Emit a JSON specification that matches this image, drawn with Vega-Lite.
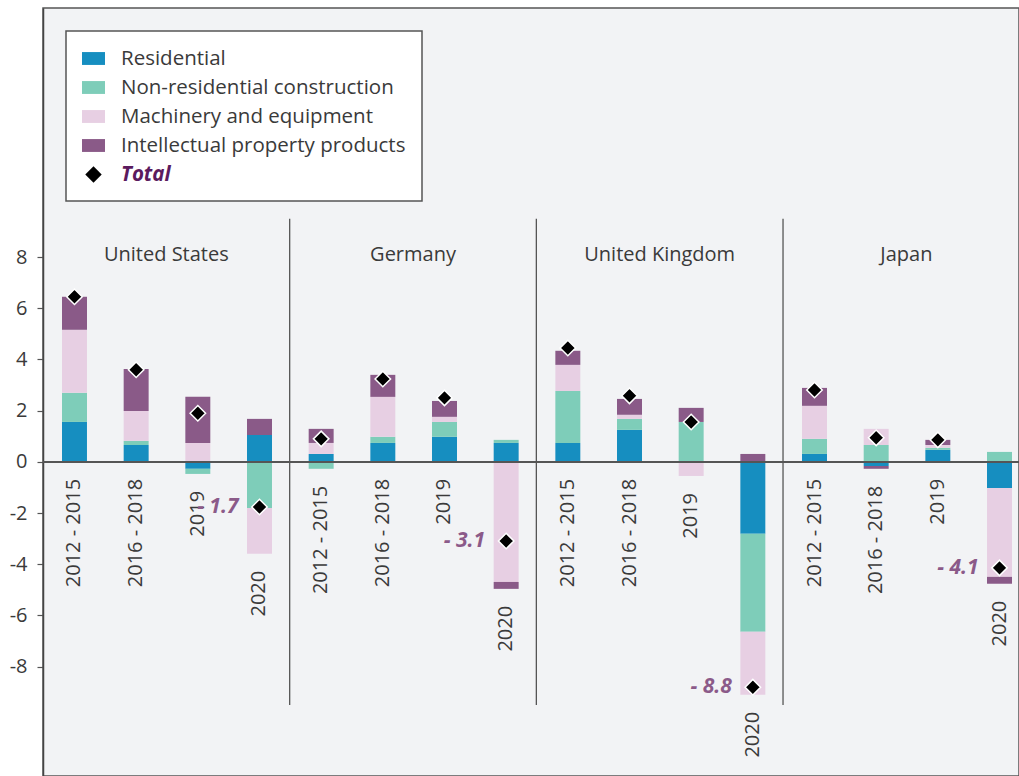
{
  "$schema": "https://vega.github.io/schema/vega-lite/v6.json",
  "width": 976,
  "height": 768,
  "autosize": {"type": "none"},
  "padding": {"left": 43, "top": 8, "right": 0, "bottom": 0},
  "background": "white",
  "config": {
    "view": {"fill": "#f2f3f5", "stroke": "#555555", "strokeWidth": 1.5},
    "font": "Open Sans"
  },
  "resolve": {"scale": {"x": "independent"}},
  "layer": [
    {
      "data": {
        "values": [
          {"country": "United States", "period": "2012 - 2015", "series": "Residential", "value": 1.56},
          {"country": "United States", "period": "2012 - 2015", "series": "Non-residential construction", "value": 1.14},
          {"country": "United States", "period": "2012 - 2015", "series": "Machinery and equipment", "value": 2.46},
          {"country": "United States", "period": "2012 - 2015", "series": "Intellectual property products", "value": 1.29},
          {"country": "United States", "period": "2012 - 2015", "series": "Total", "value": 6.45},
          {"country": "United States", "period": "2016 - 2018", "series": "Residential", "value": 0.66},
          {"country": "United States", "period": "2016 - 2018", "series": "Non-residential construction", "value": 0.16},
          {"country": "United States", "period": "2016 - 2018", "series": "Machinery and equipment", "value": 1.17},
          {"country": "United States", "period": "2016 - 2018", "series": "Intellectual property products", "value": 1.64},
          {"country": "United States", "period": "2016 - 2018", "series": "Total", "value": 3.6},
          {"country": "United States", "period": "2019", "series": "Residential", "value": -0.27},
          {"country": "United States", "period": "2019", "series": "Non-residential construction", "value": -0.2},
          {"country": "United States", "period": "2019", "series": "Machinery and equipment", "value": 0.74},
          {"country": "United States", "period": "2019", "series": "Intellectual property products", "value": 1.8},
          {"country": "United States", "period": "2019", "series": "Total", "value": 1.9},
          {"country": "United States", "period": "2020", "series": "Residential", "value": 1.05},
          {"country": "United States", "period": "2020", "series": "Non-residential construction", "value": -1.8},
          {"country": "United States", "period": "2020", "series": "Machinery and equipment", "value": -1.79},
          {"country": "United States", "period": "2020", "series": "Intellectual property products", "value": 0.63},
          {"country": "United States", "period": "2020", "series": "Total", "value": -1.76, "label": "- 1.7"},
          {"country": "Germany", "period": "2012 - 2015", "series": "Residential", "value": 0.31},
          {"country": "Germany", "period": "2012 - 2015", "series": "Non-residential construction", "value": -0.27},
          {"country": "Germany", "period": "2012 - 2015", "series": "Machinery and equipment", "value": 0.43},
          {"country": "Germany", "period": "2012 - 2015", "series": "Intellectual property products", "value": 0.55},
          {"country": "Germany", "period": "2012 - 2015", "series": "Total", "value": 0.9},
          {"country": "Germany", "period": "2016 - 2018", "series": "Residential", "value": 0.74},
          {"country": "Germany", "period": "2016 - 2018", "series": "Non-residential construction", "value": 0.24},
          {"country": "Germany", "period": "2016 - 2018", "series": "Machinery and equipment", "value": 1.56},
          {"country": "Germany", "period": "2016 - 2018", "series": "Intellectual property products", "value": 0.86},
          {"country": "Germany", "period": "2016 - 2018", "series": "Total", "value": 3.24},
          {"country": "Germany", "period": "2019", "series": "Residential", "value": 0.98},
          {"country": "Germany", "period": "2019", "series": "Non-residential construction", "value": 0.58},
          {"country": "Germany", "period": "2019", "series": "Machinery and equipment", "value": 0.2},
          {"country": "Germany", "period": "2019", "series": "Intellectual property products", "value": 0.62},
          {"country": "Germany", "period": "2019", "series": "Total", "value": 2.5},
          {"country": "Germany", "period": "2020", "series": "Residential", "value": 0.74},
          {"country": "Germany", "period": "2020", "series": "Non-residential construction", "value": 0.12},
          {"country": "Germany", "period": "2020", "series": "Machinery and equipment", "value": -4.69},
          {"country": "Germany", "period": "2020", "series": "Intellectual property products", "value": -0.27},
          {"country": "Germany", "period": "2020", "series": "Total", "value": -3.09, "label": "- 3.1"},
          {"country": "United Kingdom", "period": "2012 - 2015", "series": "Residential", "value": 0.74},
          {"country": "United Kingdom", "period": "2012 - 2015", "series": "Non-residential construction", "value": 2.03},
          {"country": "United Kingdom", "period": "2012 - 2015", "series": "Machinery and equipment", "value": 1.02},
          {"country": "United Kingdom", "period": "2012 - 2015", "series": "Intellectual property products", "value": 0.55},
          {"country": "United Kingdom", "period": "2012 - 2015", "series": "Total", "value": 4.45},
          {"country": "United Kingdom", "period": "2016 - 2018", "series": "Residential", "value": 1.25},
          {"country": "United Kingdom", "period": "2016 - 2018", "series": "Non-residential construction", "value": 0.43},
          {"country": "United Kingdom", "period": "2016 - 2018", "series": "Machinery and equipment", "value": 0.16},
          {"country": "United Kingdom", "period": "2016 - 2018", "series": "Intellectual property products", "value": 0.62},
          {"country": "United Kingdom", "period": "2016 - 2018", "series": "Total", "value": 2.58},
          {"country": "United Kingdom", "period": "2019", "series": "Residential", "value": 0},
          {"country": "United Kingdom", "period": "2019", "series": "Non-residential construction", "value": 1.56},
          {"country": "United Kingdom", "period": "2019", "series": "Machinery and equipment", "value": -0.55},
          {"country": "United Kingdom", "period": "2019", "series": "Intellectual property products", "value": 0.55},
          {"country": "United Kingdom", "period": "2019", "series": "Total", "value": 1.56},
          {"country": "United Kingdom", "period": "2020", "series": "Residential", "value": -2.81},
          {"country": "United Kingdom", "period": "2020", "series": "Non-residential construction", "value": -3.83},
          {"country": "United Kingdom", "period": "2020", "series": "Machinery and equipment", "value": -2.46},
          {"country": "United Kingdom", "period": "2020", "series": "Intellectual property products", "value": 0.31},
          {"country": "United Kingdom", "period": "2020", "series": "Total", "value": -8.8, "label": "- 8.8"},
          {"country": "Japan", "period": "2012 - 2015", "series": "Residential", "value": 0.31},
          {"country": "Japan", "period": "2012 - 2015", "series": "Non-residential construction", "value": 0.59},
          {"country": "Japan", "period": "2012 - 2015", "series": "Machinery and equipment", "value": 1.29},
          {"country": "Japan", "period": "2012 - 2015", "series": "Intellectual property products", "value": 0.7},
          {"country": "Japan", "period": "2012 - 2015", "series": "Total", "value": 2.81},
          {"country": "Japan", "period": "2016 - 2018", "series": "Residential", "value": -0.16},
          {"country": "Japan", "period": "2016 - 2018", "series": "Non-residential construction", "value": 0.66},
          {"country": "Japan", "period": "2016 - 2018", "series": "Machinery and equipment", "value": 0.63},
          {"country": "Japan", "period": "2016 - 2018", "series": "Intellectual property products", "value": -0.11},
          {"country": "Japan", "period": "2016 - 2018", "series": "Total", "value": 0.94},
          {"country": "Japan", "period": "2019", "series": "Residential", "value": 0.47},
          {"country": "Japan", "period": "2019", "series": "Non-residential construction", "value": 0.08},
          {"country": "Japan", "period": "2019", "series": "Machinery and equipment", "value": 0.11},
          {"country": "Japan", "period": "2019", "series": "Intellectual property products", "value": 0.2},
          {"country": "Japan", "period": "2019", "series": "Total", "value": 0.86},
          {"country": "Japan", "period": "2020", "series": "Residential", "value": -1.02},
          {"country": "Japan", "period": "2020", "series": "Non-residential construction", "value": 0.39},
          {"country": "Japan", "period": "2020", "series": "Machinery and equipment", "value": -3.47},
          {"country": "Japan", "period": "2020", "series": "Intellectual property products", "value": -0.27},
          {"country": "Japan", "period": "2020", "series": "Total", "value": -4.14, "label": "- 4.1"}
        ]
      },
      "transform": [{"calculate": "datum.country + ' ' + datum.period", "as": "key"}],
      "encoding": {
        "x": {
          "field": "key",
          "type": "nominal",
          "axis": null,
          "scale": {
            "type": "band",
            "domain": [
              "United States 2012 - 2015", "United States 2016 - 2018", "United States 2019", "United States 2020",
              "Germany 2012 - 2015", "Germany 2016 - 2018", "Germany 2019", "Germany 2020",
              "United Kingdom 2012 - 2015", "United Kingdom 2016 - 2018", "United Kingdom 2019", "United Kingdom 2020",
              "Japan 2012 - 2015", "Japan 2016 - 2018", "Japan 2019", "Japan 2020"
            ],
            "range": [19, 969],
            "paddingInner": 0.595,
            "paddingOuter": 0
          }
        }
      },
      "layer": [
        {
          "transform": [
            {"filter": "datum.series !== 'Total'"},
            {"calculate": "indexof(['Residential','Non-residential construction','Machinery and equipment','Intellectual property products'], datum.series)", "as": "ord"}
          ],
          "mark": {"type": "bar"},
          "encoding": {
            "y": {
              "field": "value",
              "type": "quantitative",
              "stack": "zero",
              "scale": {"domain": [-12.27, 17.73], "nice": false, "zero": false},
              "axis": {
                "title": null,
                "values": [-8, -6, -4, -2, 0, 2, 4, 6, 8],
                "labelExpr": "'' + datum.value",
                "grid": false,
                "labelFontSize": 20,
                "labelColor": "#3a3a3a",
                "labelPadding": 10,
                "tickSize": 6,
                "tickColor": "#555555",
                "tickWidth": 1.2,
                "domainColor": "#444444",
                "domainWidth": 1.5
              }
            },
            "color": {
              "field": "series",
              "type": "nominal",
              "scale": {
                "domain": ["Residential", "Non-residential construction", "Machinery and equipment", "Intellectual property products", "Total"],
                "range": ["#168ec0", "#7ecdb9", "#e7cfe3", "#8a5a88", "#000000"]
              },
              "legend": {
                "title": null,
                "orient": "none",
                "legendX": 23,
                "legendY": 23,
                "direction": "vertical",
                "fillColor": "white",
                "strokeColor": "#555555",
                "padding": 16,
                "labelFontSize": 20.5,
                "labelColor": "#3a3a3a",
                "labelOffset": 16,
                "labelLimit": 400,
                "rowPadding": 7,
                "encode": {
                  "symbols": {
                    "update": {
                      "shape": {"signal": "datum.value === 'Total' ? 'diamond' : 'M-1,-0.56H1V0.56H-1Z'"},
                      "size": {"signal": "datum.value === 'Total' ? 270 : 529"},
                      "strokeWidth": {"value": 0}
                    }
                  },
                  "labels": {
                    "update": {
                      "fontWeight": {"signal": "datum.value === 'Total' ? 'bold' : 'normal'"},
                      "fontStyle": {"signal": "datum.value === 'Total' ? 'italic' : 'normal'"},
                      "fill": {"signal": "datum.value === 'Total' ? '#5b1a5e' : '#3a3a3a'"}
                    }
                  },
                  "legend": {"update": {"strokeWidth": {"value": 1.5}}}
                }
              }
            },
            "order": {"field": "ord", "type": "quantitative"}
          }
        },
        {
          "data": {"values": [{"zero": 0}]},
          "mark": {"type": "rule", "color": "#555555", "strokeWidth": 2},
          "encoding": {"x": null, "y": {"field": "zero", "type": "quantitative"}}
        },
        {
          "transform": [
            {"filter": "datum.series !== 'Total'"},
            {"calculate": "min(datum.value, 0)", "as": "neg"},
            {"aggregate": [{"op": "sum", "field": "neg", "as": "negsum"}], "groupby": ["key", "period"]}
          ],
          "mark": {"type": "text", "angle": -90, "align": "right", "baseline": "middle", "dx": -17, "fontSize": 20, "color": "#3a3a3a"},
          "encoding": {
            "y": {"field": "negsum", "type": "quantitative"},
            "text": {"field": "period", "type": "nominal"}
          }
        },
        {
          "transform": [{"filter": "datum.series === 'Total'"}],
          "mark": {"type": "point", "shape": "diamond", "filled": true, "size": 240, "stroke": "white", "strokeWidth": 1.5, "opacity": 1},
          "encoding": {
            "y": {"field": "value", "type": "quantitative"},
            "color": {"field": "series", "type": "nominal"}
          }
        },
        {
          "transform": [{"filter": "datum.series === 'Total' && datum.label"}],
          "mark": {"type": "text", "align": "right", "baseline": "middle", "dx": -21, "fontSize": 21, "fontWeight": "bold", "fontStyle": "italic", "color": "#8b5a89"},
          "encoding": {
            "y": {"field": "value", "type": "quantitative"},
            "text": {"field": "label", "type": "nominal"}
          }
        }
      ]
    },
    {
      "data": {"values": [{"country": "Germany"}, {"country": "United Kingdom"}, {"country": "Japan"}]},
      "mark": {"type": "rule", "color": "#555555", "strokeWidth": 1.3},
      "encoding": {
        "x": {
          "field": "country",
          "type": "nominal",
          "bandPosition": 0,
          "axis": null,
          "scale": {"type": "band", "domain": ["United States", "Germany", "United Kingdom", "Japan"], "range": [0, 986.7], "paddingInner": 0, "paddingOuter": 0}
        },
        "y": {"datum": 9.5, "type": "quantitative"},
        "y2": {"datum": -9.5}
      }
    },
    {
      "data": {"values": [{"country": "United States"}, {"country": "Germany"}, {"country": "United Kingdom"}, {"country": "Japan"}]},
      "mark": {"type": "text", "fontSize": 20, "color": "#3a3a3a", "baseline": "middle", "align": "center"},
      "encoding": {
        "x": {
          "field": "country",
          "type": "nominal",
          "axis": null,
          "scale": {"type": "band", "domain": ["United States", "Germany", "United Kingdom", "Japan"], "range": [0, 986.7], "paddingInner": 0, "paddingOuter": 0}
        },
        "y": {"datum": 8.1, "type": "quantitative"},
        "text": {"field": "country", "type": "nominal"}
      }
    }
  ]
}
